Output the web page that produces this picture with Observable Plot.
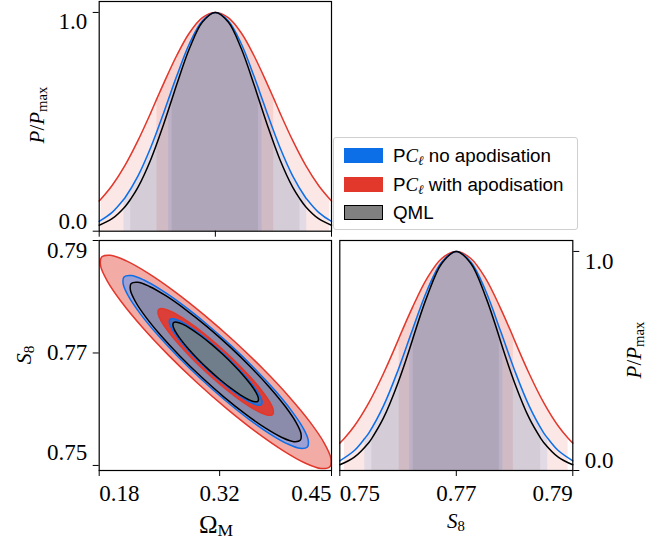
<!DOCTYPE html>
<html><head><meta charset="utf-8">
<script src="https://cdn.jsdelivr.net/npm/d3@7"></script>
<script src="https://cdn.jsdelivr.net/npm/@observablehq/plot@0.6"></script>
<style>
html,body{margin:0;padding:0;background:#fff;}
#root{position:relative;width:660px;height:541px;overflow:hidden;background:#fff;}
.panel{position:absolute;}
.panel text{font-family:"Liberation Serif",serif;}
.lbl{position:absolute;font-family:"Liberation Serif",serif;color:#000;white-space:nowrap;line-height:1;}
.lbl sub{font-size:0.7em;vertical-align:-0.22em;line-height:0;}
#legend{position:absolute;left:333px;top:137px;width:243px;height:91px;border:1px solid #cfcfcf;border-radius:3px;background:#fff;font-family:"Liberation Sans",sans-serif;font-size:18.8px;color:#000;}
.row{position:absolute;left:0;height:20px;}
.patch{position:absolute;left:10px;width:39px;height:15px;box-sizing:border-box;}
.ltext{position:absolute;left:59px;white-space:nowrap;line-height:20px;}
.m{font-family:"Liberation Serif",serif;font-style:italic;}
.ltext sub{font-size:0.7em;vertical-align:-0.25em;line-height:0;}
</style></head><body><div id="root"></div>
<script>
// ---------- data ----------
// Omega_M marginal (top-left)
const omegaGrid = [0.18,0.195,0.21,0.225,0.24,0.255,0.27,0.285,0.30,0.315,0.33,0.345,0.36,0.375,0.39,0.405,0.42,0.435,0.45];
const redOmegaP   = [0.138,0.209,0.301,0.414,0.542,0.676,0.802,0.907,0.976,1.0,0.976,0.907,0.802,0.676,0.542,0.414,0.301,0.209,0.138];
const blueOmegaP  = [0.045,0.086,0.153,0.252,0.384,0.542,0.708,0.858,0.962,1.0,0.962,0.858,0.708,0.542,0.384,0.252,0.153,0.086,0.045];
const blackOmegaP = [0.027,0.057,0.112,0.200,0.328,0.490,0.669,0.836,0.956,1.0,0.956,0.836,0.669,0.490,0.328,0.200,0.112,0.057,0.027];
// shaded interval edges [lo95, lo68, hi68, hi95] and curve height there
const redOmegaBand   = [0.1821,0.2472,0.3828,0.4479];
const blueOmegaBand  = [0.2088,0.2608,0.3692,0.4212];
const blackOmegaBand = [0.2166,0.2648,0.3652,0.4134];
const bandEdgeP = [0.147,0.607,0.607,0.147];
// S8 marginal (bottom-right)
const s8Grid = [0.75,0.7525,0.755,0.7575,0.76,0.7625,0.765,0.7675,0.77,0.7725,0.775,0.7775,0.78,0.7825,0.785,0.7875,0.79];
const redS8P   = [0.125,0.203,0.310,0.443,0.594,0.746,0.878,0.968,1.0,0.968,0.878,0.746,0.594,0.443,0.310,0.203,0.125];
const blueS8P  = [0.044,0.091,0.172,0.295,0.458,0.644,0.823,0.952,1.0,0.952,0.823,0.644,0.458,0.295,0.172,0.091,0.044];
const blackS8P = [0.026,0.061,0.128,0.240,0.401,0.598,0.796,0.945,1.0,0.945,0.796,0.598,0.401,0.240,0.128,0.061,0.026];
const redS8Band   = [0.7508,0.7602,0.7798,0.7892];
const blueS8Band  = [0.7543,0.7620,0.7780,0.7857];
const blackS8Band = [0.7555,0.7626,0.7774,0.7845];
// 2D contours (Omega_M, S8) traced round each closed contour
const redOuter = [[0.44916,0.75133],[0.44121,0.75407],[0.42468,0.75779],[0.40071,0.76223],[0.37092,0.76709],[0.33735,0.77204],[0.30228,0.77674],[0.26811,0.78088],[0.23716,0.78416],[0.21155,0.78637],[0.19300,0.78736],[0.18280,0.78705],[0.18164,0.78547],[0.18959,0.78273],[0.20612,0.77901],[0.23009,0.77457],[0.25988,0.76971],[0.29345,0.76476],[0.32852,0.76006],[0.36269,0.75592],[0.39364,0.75264],[0.41925,0.75043],[0.43780,0.74945],[0.44800,0.74975]];
const redInner = [[0.38228,0.75986],[0.37830,0.76124],[0.37004,0.76309],[0.35805,0.76531],[0.34316,0.76774],[0.32638,0.77022],[0.30884,0.77257],[0.29176,0.77464],[0.27628,0.77628],[0.26347,0.77738],[0.25420,0.77788],[0.24910,0.77772],[0.24852,0.77694],[0.25250,0.77556],[0.26076,0.77371],[0.27275,0.77149],[0.28764,0.76906],[0.30442,0.76658],[0.32196,0.76423],[0.33904,0.76216],[0.35452,0.76052],[0.36733,0.75942],[0.37660,0.75892],[0.38170,0.75908]];
const blueOuter = [[0.42288,0.75456],[0.41649,0.75679],[0.40321,0.75980],[0.38395,0.76340],[0.36002,0.76734],[0.33304,0.77135],[0.30486,0.77516],[0.27740,0.77851],[0.25253,0.78117],[0.23195,0.78297],[0.21705,0.78376],[0.20885,0.78351],[0.20792,0.78224],[0.21431,0.78001],[0.22759,0.77700],[0.24685,0.77340],[0.27078,0.76946],[0.29776,0.76545],[0.32594,0.76164],[0.35340,0.75829],[0.37827,0.75563],[0.39885,0.75383],[0.41375,0.75304],[0.42195,0.75329]];
const blueInner = [[0.36914,0.76148],[0.36595,0.76259],[0.35931,0.76410],[0.34968,0.76590],[0.33771,0.76787],[0.32422,0.76988],[0.31013,0.77178],[0.29640,0.77346],[0.28397,0.77479],[0.27367,0.77568],[0.26622,0.77608],[0.26213,0.77596],[0.26166,0.77532],[0.26485,0.77421],[0.27149,0.77270],[0.28113,0.77090],[0.29309,0.76893],[0.30658,0.76692],[0.32067,0.76502],[0.33440,0.76334],[0.34684,0.76201],[0.35713,0.76112],[0.36458,0.76072],[0.36868,0.76084]];
const blackOuter = [[0.41452,0.75564],[0.40863,0.75769],[0.39638,0.76047],[0.37862,0.76379],[0.35655,0.76742],[0.33167,0.77112],[0.30568,0.77464],[0.28036,0.77772],[0.25742,0.78018],[0.23844,0.78183],[0.22470,0.78257],[0.21714,0.78234],[0.21628,0.78116],[0.22217,0.77911],[0.23442,0.77633],[0.25218,0.77301],[0.27425,0.76938],[0.29913,0.76568],[0.32512,0.76216],[0.35044,0.75908],[0.37338,0.75662],[0.39236,0.75497],[0.40610,0.75423],[0.41366,0.75446]];
const blackInner = [[0.36496,0.76202],[0.36202,0.76305],[0.35589,0.76443],[0.34701,0.76609],[0.33597,0.76791],[0.32353,0.76976],[0.31054,0.77152],[0.29788,0.77306],[0.28641,0.77429],[0.27692,0.77512],[0.27005,0.77548],[0.26627,0.77537],[0.26584,0.77478],[0.26878,0.77375],[0.27491,0.77237],[0.28379,0.77071],[0.29483,0.76889],[0.30727,0.76704],[0.32026,0.76528],[0.33292,0.76374],[0.34439,0.76251],[0.35388,0.76169],[0.36075,0.76132],[0.36453,0.76143]];
// ticks and labels
const omegaTicks = [0.18,0.32,0.45];
const omegaTopTicks = [0.18,0.315,0.45];
const s8Ticks = [0.75,0.77,0.79];
const pTicks = [0,1];
const legendLabels = ["PC_ℓ no apodisation","PC_ℓ with apodisation","QML"];

// ---------- styles ----------
const RED = "#e2372b", BLUE = "#0c6fe8", BLACK = "#000000";
const fill2D = {redOuter:"#f3aba5", blueOuter:"#9da0d4", blackOuter:"#8b8bab", redInner:"#dc3f37", blueInner:"#4c6db8", blackInner:"#6f7e8a"};
const A95 = {red:0.12, blue:0.10, black:0.06}, A68 = {red:0.12, blue:0.10, black:0.06};
const FONT = "Liberation Serif";
const svgStyle = {background:"transparent", fontFamily:"'Liberation Serif', serif", fontSize:"23px", color:"black", overflow:"visible"};

function rowsOf(grid, vals, band) {
  const rows = grid.map((x,i)=>({x, p: vals[i]}));
  band.forEach((x,i)=>rows.push({x, p: bandEdgeP[i]}));
  rows.sort((a,b)=>a.x-b.x);
  return rows.filter((r,i)=> i===0 || Math.abs(r.x-rows[i-1].x) > 1e-7);
}
function bands(rows, band, color, a95, a68) {
  const in95 = rows.filter(r => r.x >= band[0]-1e-9 && r.x <= band[3]+1e-9);
  const in68 = rows.filter(r => r.x >= band[1]-1e-9 && r.x <= band[2]+1e-9);
  return [
    Plot.areaY(in95, {x:"x", y:"p", fill:color, fillOpacity:a95, curve:"catmull-rom"}),
    Plot.areaY(in68, {x:"x", y:"p", fill:color, fillOpacity:a68, curve:"catmull-rom"})
  ];
}
function curve(rows, color) {
  return Plot.line(rows, {x:"x", y:"p", stroke:color, strokeWidth:1.5, curve:"catmull-rom"});
}

const root = document.getElementById("root");
function place(svg, left, top) { svg.classList.add("panel"); svg.style.left = left+"px"; svg.style.top = top+"px"; root.appendChild(svg); }

// ---------- top-left: Omega_M marginal ----------
const rO = rowsOf(omegaGrid, redOmegaP, redOmegaBand);
const bO = rowsOf(omegaGrid, blueOmegaP, blueOmegaBand);
const kO = rowsOf(omegaGrid, blackOmegaP, blackOmegaBand);
const panelA = Plot.plot({
  width:340, height:245, marginLeft:98.7, marginRight:9, marginTop:1, marginBottom:14.3,
  x:{domain:[0.18,0.45], label:null}, y:{domain:[0,1.05], label:null},
  style: svgStyle,
  marks:[
    ...bands(rO, redOmegaBand, RED, A95.red, A68.red),
    ...bands(bO, blueOmegaBand, BLUE, A95.blue, A68.blue),
    ...bands(kO, blackOmegaBand, BLACK, A95.black, A68.black),
    curve(rO, RED), curve(bO, BLUE), curve(kO, BLACK),
    Plot.frame({stroke:"black", strokeWidth:1.2}),
    Plot.axisX({ticks:omegaTopTicks, tickSize:6, tickFormat:()=>"", label:null}),
    Plot.axisY({ticks:pTicks, tickSize:6, tickFormat:()=>"", label:null}),
    Plot.axisY({ticks:[pTicks[1]], tickSize:0, tickPadding:12, dy:9, tickFormat:".1f", fontFamily:FONT, label:null}),
    Plot.axisY({ticks:[pTicks[0]], tickSize:0, tickPadding:12, dy:-10, tickFormat:".1f", fontFamily:FONT, label:null})
  ]
});
place(panelA, 0, 0);

// ---------- bottom-left: 2D contours ----------
const ell = (d, fill, stroke) => Plot.line(d, {x:p=>p[0], y:p=>p[1], curve:"catmull-rom-closed", fill, stroke, strokeWidth:1.5, clip:true});
const panelB = Plot.plot({
  width:340, height:309, marginLeft:98.7, marginRight:9, marginTop:8, marginBottom:71,
  x:{domain:[0.18,0.45], label:null}, y:{domain:[0.7491,0.79], label:null},
  style: svgStyle,
  marks:[
    ell(redOuter, fill2D.redOuter, RED),
    ell(blueOuter, fill2D.blueOuter, BLUE),
    ell(blackOuter, fill2D.blackOuter, BLACK),
    ell(redInner, fill2D.redInner, RED),
    ell(blueInner, fill2D.blueInner, BLUE),
    ell(blackInner, fill2D.blackInner, BLACK),
    Plot.frame({stroke:"black", strokeWidth:1.2}),
    Plot.axisX({ticks:[omegaTicks[0]], tickSize:6, tickPadding:8, tickFormat:".2f", textAnchor:"start", fontFamily:FONT, label:null}),
    Plot.axisX({ticks:[omegaTicks[1]], tickSize:6, tickPadding:8, tickFormat:".2f", fontFamily:FONT, label:null}),
    Plot.axisX({ticks:[omegaTicks[2]], tickSize:6, tickPadding:8, tickFormat:".2f", textAnchor:"end", fontFamily:FONT, label:null}),
    Plot.axisY({ticks:s8Ticks, tickSize:6, tickFormat:()=>"", label:null}),
    Plot.axisY({ticks:[s8Ticks[2]], tickSize:0, tickPadding:12, dy:10, tickFormat:".2f", fontFamily:FONT, label:null}),
    Plot.axisY({ticks:[s8Ticks[1]], tickSize:0, tickPadding:12, tickFormat:".2f", fontFamily:FONT, label:null}),
    Plot.axisY({ticks:[s8Ticks[0]], tickSize:0, tickPadding:12, dy:-13, tickFormat:".2f", fontFamily:FONT, label:null})
  ]
});
place(panelB, 0, 232);

// ---------- bottom-right: S8 marginal ----------
const rS = rowsOf(s8Grid, redS8P, redS8Band);
const bS = rowsOf(s8Grid, blueS8P, blueS8Band);
const kS = rowsOf(s8Grid, blackS8P, blackS8Band);
const panelC = Plot.plot({
  width:330, height:309, marginLeft:9.3, marginRight:87.7, marginTop:8, marginBottom:71,
  x:{domain:[0.75,0.79], label:null}, y:{domain:[0,1.05], label:null},
  style: svgStyle,
  marks:[
    ...bands(rS, redS8Band, RED, A95.red, A68.red),
    ...bands(bS, blueS8Band, BLUE, A95.blue, A68.blue),
    ...bands(kS, blackS8Band, BLACK, A95.black, A68.black),
    curve(rS, RED), curve(bS, BLUE), curve(kS, BLACK),
    Plot.frame({stroke:"black", strokeWidth:1.2}),
    Plot.axisX({ticks:[s8Ticks[0]], tickSize:6, tickPadding:8, tickFormat:".2f", textAnchor:"start", fontFamily:FONT, label:null}),
    Plot.axisX({ticks:[s8Ticks[1]], tickSize:6, tickPadding:8, tickFormat:".2f", fontFamily:FONT, label:null}),
    Plot.axisX({ticks:[s8Ticks[2]], tickSize:6, tickPadding:8, tickFormat:".2f", textAnchor:"end", fontFamily:FONT, label:null}),
    Plot.axisY({anchor:"right", ticks:pTicks, tickSize:6, tickFormat:()=>"", label:null}),
    Plot.axisY({anchor:"right", ticks:[pTicks[1]], tickSize:0, tickPadding:12, dy:10, tickFormat:".1f", fontFamily:FONT, label:null}),
    Plot.axisY({anchor:"right", ticks:[pTicks[0]], tickSize:0, tickPadding:12, dy:-10, tickFormat:".1f", fontFamily:FONT, label:null})
  ]
});
place(panelC, 330, 232);

// ---------- axis titles ----------
function label(html, cx, cy, size, rot) {
  const d = document.createElement("div");
  d.className = "lbl"; d.innerHTML = html;
  d.style.left = cx+"px"; d.style.top = cy+"px"; d.style.fontSize = size+"px";
  d.style.transform = "translate(-50%,-50%)" + (rot ? " rotate(-90deg)" : "");
  root.appendChild(d);
}
const pLabel = "<i>P</i>/<i>P</i><sub>max</sub>";
label(pLabel, 37, 115, 21, true);
label(pLabel, 634, 350, 21, true);
label("<i>S</i><sub>8</sub>", 24, 355, 22, true);
label("Ω<sub>M</sub>", 216, 524, 25, false);
label("<i>S</i><sub>8</sub>", 456, 521, 21, false);

// ---------- legend ----------
const leg = document.createElement("div"); leg.id = "legend";
const legColors = [BLUE, RED, "#808080"];
legendLabels.forEach((t, i) => {
  const row = document.createElement("div"); row.className = "row"; row.style.top = (8 + i*28.5) + "px";
  const p = document.createElement("div"); p.className = "patch"; p.style.top = "2px"; p.style.background = legColors[i];
  if (i === 2) p.style.border = "1.5px solid #000";
  const tx = document.createElement("div"); tx.className = "ltext";
  tx.innerHTML = t.replace("PC_ℓ", 'P<span class="m">C</span><sub class="m">ℓ</sub>');
  row.appendChild(p); row.appendChild(tx); leg.appendChild(row);
});
root.appendChild(leg);
</script></body></html>
